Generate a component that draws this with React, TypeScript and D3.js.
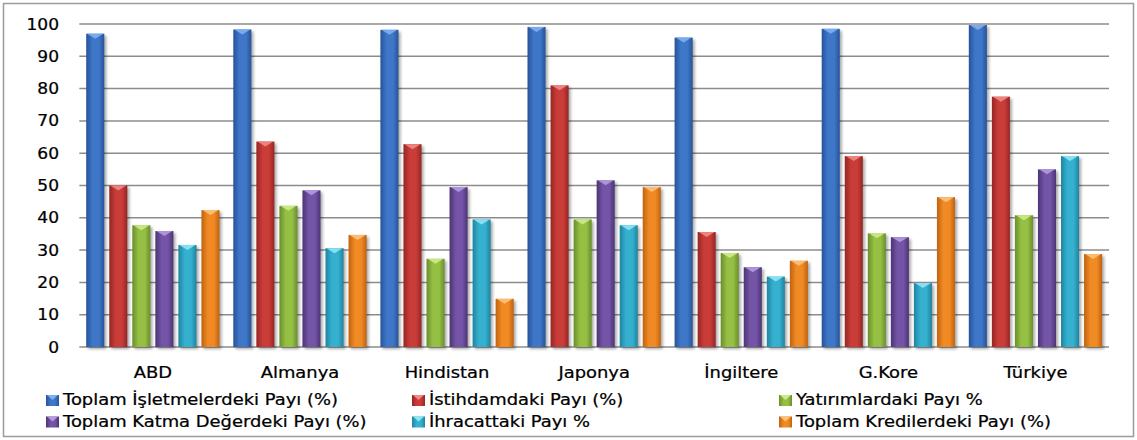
import React from "react";
import * as d3 from "d3";

const categories = ["ABD", "Almanya", "Hindistan", "Japonya", "İngiltere", "G.Kore", "Türkiye"];

const seriesNames = [
  "Toplam İşletmelerdeki Payı (%)",
  "İstihdamdaki Payı (%)",
  "Yatırımlardaki Payı %",
  "Toplam Katma Değerdeki Payı (%)",
  "İhracattaki Payı %",
  "Toplam Kredilerdeki Payı (%)",
];

const isletme = [97, 98.3, 98.2, 99.1, 95.8, 98.5, 99.7];
const istihdam = [50, 63.6, 62.8, 81, 35.6, 59.1, 77.5];
const yatirim = [37.7, 43.7, 27.3, 39.5, 29.1, 35.2, 40.8];
const katmaDeger = [35.9, 48.5, 49.5, 51.6, 24.7, 34, 55];
const ihracat = [31.6, 30.6, 39.5, 37.7, 21.8, 19.8, 59.1];
const kredi = [42.4, 34.7, 14.9, 49.5, 26.7, 46.4, 28.8];

const seriesValues = [isletme, istihdam, yatirim, katmaDeger, ihracat, kredi];

const yTicks = [0, 10, 20, 30, 40, 50, 60, 70, 80, 90, 100];

// [dark edge, light centre, top bevel]
const palette = [
  ["#26539a", "#3f77c8", "#7fb0f0"],
  ["#952624", "#c93c38", "#f08a86"],
  ["#6a8e2c", "#95c044", "#cdea88"],
  ["#4c3475", "#7354a6", "#b49ae0"],
  ["#1f84a0", "#35b0cf", "#8fe4f6"],
  ["#c0620f", "#f08a24", "#fcc27c"],
];

const W = 1137;
const H = 440;
const plot = { left: 79.3, right: 1109, top: 24, bottom: 347 };
const FONT = "'DejaVu Sans', Verdana, sans-serif";

export default function App() {
  const x0 = d3.scaleBand<string>().domain(categories).range([plot.left, plot.right]);
  const x1 = d3
    .scaleBand<number>()
    .domain(d3.range(seriesNames.length))
    .range([0, x0.bandwidth()])
    .paddingInner(0.217)
    .paddingOuter(0.3);
  const y = d3.scaleLinear().domain([0, 100]).range([plot.bottom, plot.top]);

  const legendCols = [46, 412, 779];
  const legendRows = [405, 426.5];

  return (
    <svg
      width={W}
      height={H}
      style={{ position: "absolute", left: 0, top: 0, background: "#fff" }}
      fontFamily={FONT}
    >
      <defs>
        {palette.map((c, i) => (
          <linearGradient key={i} id={`bar${i}`} x1="0" x2="1" y1="0" y2="0">
            <stop offset="0" stopColor={c[0]} />
            <stop offset="0.35" stopColor={c[1]} />
            <stop offset="0.7" stopColor={c[1]} />
            <stop offset="1" stopColor={c[0]} />
          </linearGradient>
        ))}
        <filter id="shadow" x="-50%" y="-10%" width="200%" height="120%">
          <feGaussianBlur stdDeviation="1.5" />
        </filter>
      </defs>

      <rect x={3.5} y={3.5} width={1130} height={433} fill="#fff" stroke="#9a9a9a" strokeWidth={1.5} />

      {yTicks.map((t) => (
        <g key={t}>
          <line
            x1={plot.left}
            x2={plot.right}
            y1={y(t)}
            y2={y(t)}
            stroke="#8c8c8c"
            strokeWidth={1.5}
          />
          <text
            transform={`translate(59,${y(t)}) scale(1.1,1)`}
            textAnchor="end"
            dy="0.36em"
            fontSize={15.5}
            fill="#000"
            stroke="#000"
            strokeWidth={0.25}
          >
            {t}
          </text>
        </g>
      ))}

      {categories.map((cat, ci) => (
        <g key={cat} transform={`translate(${x0(cat)},0)`}>
          {seriesValues.map((vals, si) => {
            const v = vals[ci];
            const bx = x1(si)!;
            const bw = x1.bandwidth();
            const top = y(v);
            const h = plot.bottom - top;
            return (
              <g key={si}>
                <rect x={bx + 2} y={top + 2} width={bw} height={h} fill="#000" opacity={0.35} filter="url(#shadow)" />
                <rect x={bx} y={top} width={bw} height={h} fill={`url(#bar${si})`} />
                <polygon
                  points={`${bx + 1},${top} ${bx + bw - 1},${top} ${bx + bw / 2},${top + 5}`}
                  fill={palette[si][2]}
                  opacity={0.9}
                />
              </g>
            );
          })}
          <text
            transform={`translate(${x0.bandwidth() / 2},378) scale(1.12,1)`}
            textAnchor="middle"
            fontSize={16}
            fill="#000"
            stroke="#000"
            strokeWidth={0.25}
          >
            {cat}
          </text>
        </g>
      ))}

      {seriesNames.map((name, i) => {
        const col = i % 3;
        const row = Math.floor(i / 3);
        const mx = legendCols[col];
        const by = legendRows[row];
        return (
          <g key={name}>
            <rect x={mx} y={by - 10} width={13} height={11} fill={`url(#bar${i})`} />
            <polygon
              points={`${mx + 1},${by - 10} ${mx + 12},${by - 10} ${mx + 6.5},${by - 5}`}
              fill={palette[i][2]}
            />
            <text
              transform={`translate(${mx + 17},${by}) scale(1.12,1)`}
              fontSize={16}
              fill="#000"
              stroke="#000"
              strokeWidth={0.25}
            >
              {name}
            </text>
          </g>
        );
      })}
    </svg>
  );
}
